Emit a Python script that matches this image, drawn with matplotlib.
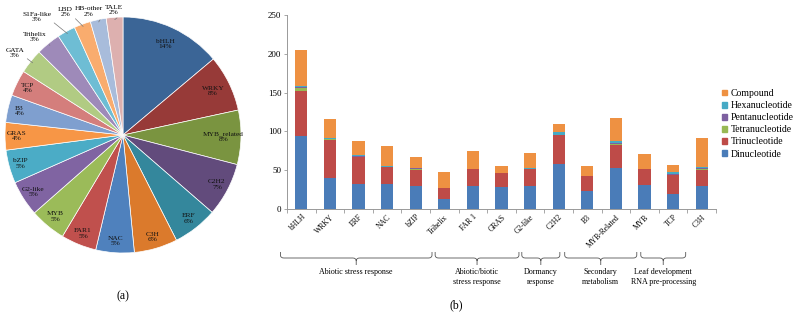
import numpy as np
import matplotlib
matplotlib.use('Agg')
import matplotlib.pyplot as plt
from matplotlib.path import Path
from matplotlib.patches import PathPatch, Patch
from matplotlib.transforms import blended_transform_factory

plt.rcParams['font.family'] = ['Liberation Serif', 'DejaVu Serif']

# (a) TF family share
families = ['bHLH', 'WRKY', 'MYB_related', 'C2H2', 'ERF', 'C3H', 'NAC', 'FAR1', 'MYB', 'G2-like',
            'bZIP', 'GRAS', 'B3', 'TCP', 'GATA', 'Trihelix', 'S1Fa-like', 'LBD', 'HB-other', 'TALE']
family_share = [14.0, 7.8, 7.5, 7.4, 6.2, 6.0, 5.3, 4.9, 5.0, 4.9,
                4.6, 3.8, 3.8, 3.6, 3.4, 3.4, 2.5, 2.3, 2.2, 2.3]
family_pct = [14, 8, 8, 7, 6, 6, 5, 5, 5, 5, 5, 4, 4, 4, 3, 3, 3, 2, 2, 2]

# (b) SSR types per TF family
tf_names = ['bHLH', 'WRKY', 'ERF', 'NAC', 'bZIP', 'Trihelix', 'FAR 1', 'GRAS', 'G2-like', 'C2H2',
            'B3', 'MYB-Related', 'MYB', 'TCP', 'C3H']
dinuc = [94, 40, 32, 32, 30, 13, 29, 28, 29, 58, 23, 53, 31, 19, 29]
trinuc = [58, 49, 35, 22, 20, 14, 23, 19, 23, 37, 19, 30, 21, 25, 21]
tetranuc = [4, 1, 0, 0, 2, 0, 0, 0, 0, 1, 0, 1, 0, 0, 1]
pentanuc = [1, 0, 1, 0, 1, 0, 0, 0, 0, 0, 0, 1, 0, 1, 2]
hexanuc = [1, 1, 1, 2, 0, 0, 0, 0, 1, 3, 0, 2, 0, 3, 1]
compound = [47, 25, 18, 25, 14, 21, 23, 9, 19, 10, 14, 30, 19, 9, 38]

groups = ['Abiotic stress response', 'Abiotic/biotic\nstress response', 'Dormancy\nresponse',
          'Secondary\nmetabolism', 'Leaf development\nRNA pre-processing']

pie_colors = ['#3B6596', '#973A38', '#7A9440', '#624B7C', '#34879C', '#DB7A2C',
              '#4F81BD', '#C0504D', '#9BBB59', '#8064A2', '#4BACC6', '#F79646',
              '#7F9FCF', '#D47E7C', '#B1CB83', '#9E8AB9', '#6EBDD4', '#F9AC6E',
              '#A8BCDB', '#DDB0AF']
bar_colors = ['#4A7CB8', '#BE4B48', '#98B954', '#7D60A0', '#46AAC5', '#EE9142']

fig = plt.figure(figsize=(7.97, 3.12), dpi=100)

# ---- pie ----
ax = fig.add_axes([5 / 797, 1 - 253 / 312, 236 / 797, 236 / 312])
wedges, _ = ax.pie(family_share, colors=pie_colors, startangle=90, counterclock=False,
                   wedgeprops=dict(edgecolor='white', linewidth=0.5))
ax.set_xlim(-1, 1)
ax.set_ylim(-1, 1)
ax.set_aspect('equal')

outside = {'GATA': (-0.915, 0.695), 'Trihelix': (-0.746, 0.833), 'S1Fa-like': (-0.73, 1.0),
           'LBD': (-0.49, 1.04), 'HB-other': (-0.29, 1.045), 'TALE': (-0.08, 1.06)}
for w, name, p in zip(wedges, families, family_pct):
    mid = np.deg2rad((w.theta1 + w.theta2) / 2)
    txt = f'{name}\n{p}%'
    if name in outside:
        tx, ty = outside[name]
        ax.annotate(txt, xy=(0.98 * np.cos(mid), 0.98 * np.sin(mid)), xytext=(tx, ty),
                    ha='center', va='center', fontsize=5.3, linespacing=1.1,
                    arrowprops=dict(arrowstyle='-', color='#777777', lw=0.5,
                                    relpos=(1.0, 0.15), shrinkA=0, shrinkB=0))
    else:
        r = 0.85 if p >= 8 else 0.9
        ax.text(r * np.cos(mid), r * np.sin(mid), txt, ha='center', va='center',
                fontsize=5.3, linespacing=1.1, color='#111111')

fig.text(123 / 797, 1 - 296 / 312, '(a)', ha='center', va='center', fontsize=8.5)

# ---- stacked bars ----
bx = fig.add_axes([287 / 797, 1 - 209 / 312, 429 / 797, 194 / 312])
x = np.arange(len(tf_names))
series = [dinuc, trinuc, tetranuc, pentanuc, hexanuc, compound]
names = ['Dinucleotide', 'Trinucleotide', 'Tetranucleotide', 'Pentanucleotide',
         'Hexanucleotide', 'Compound']
bottom = np.zeros(len(tf_names))
for vals, c in zip(series, bar_colors):
    bx.bar(x, vals, bottom=bottom, width=0.42, color=c, linewidth=0)
    bottom += np.array(vals)

bx.set_xlim(-0.5, len(tf_names) - 0.5)
bx.set_ylim(0, 250)
bx.set_yticks(range(0, 251, 50))
bx.tick_params(axis='y', labelsize=6.5, length=2, width=0.6, color='#999999', pad=2)
bx.set_xticks(x)
bx.set_xticklabels(tf_names, rotation=45, ha='right', rotation_mode='anchor', fontsize=5.5)
bx.tick_params(axis='x', which='major', length=0, pad=3)
bx.set_xticks(np.arange(-0.5, len(tf_names), 1), minor=True)
bx.tick_params(axis='x', which='minor', length=3, width=0.6, color='#999999')
for s in ['top', 'right']:
    bx.spines[s].set_visible(False)
for s in ['left', 'bottom']:
    bx.spines[s].set_color('#999999')
    bx.spines[s].set_linewidth(0.7)

handles = [Patch(color=c) for c in bar_colors]
fig.legend(handles[::-1], names[::-1], loc='upper left', bbox_to_anchor=(722 / 797, 1 - 89 / 312),
           frameon=False, fontsize=7, handlelength=0.55, handleheight=0.55,
           handletextpad=0.35, labelspacing=0.32, borderaxespad=0, borderpad=0)

# group braces under the tick labels
spans = [(-0.73, 4.57), (4.68, 7.61), (7.71, 9.04), (9.21, 11.73), (11.87, 13.44)]
trans = blended_transform_factory(bx.transData, fig.transFigure)
ytop, ymid, ybot = 1 - 252 / 312, 1 - 258 / 312, 1 - 265 / 312
e, d = 3 / 312, 0.12
for (x0, x1), g in zip(spans, groups):
    xc = (x0 + x1) / 2
    verts = [(x0, ytop), (x0, ymid + e), (x0, ymid), (x0 + d, ymid), (xc - d, ymid),
             (xc, ymid), (xc, ymid - e), (xc, ybot),
             (xc, ymid - e), (xc, ymid), (xc + d, ymid), (x1 - d, ymid),
             (x1, ymid), (x1, ymid + e), (x1, ytop)]
    codes = [Path.MOVETO, Path.LINETO, Path.CURVE3, Path.CURVE3, Path.LINETO,
             Path.CURVE3, Path.CURVE3, Path.LINETO,
             Path.MOVETO, Path.CURVE3, Path.CURVE3, Path.LINETO,
             Path.CURVE3, Path.CURVE3, Path.LINETO]
    bx.add_patch(PathPatch(Path(verts, codes), transform=trans, fill=False,
                           edgecolor='#555555', lw=0.6, clip_on=False))
    fig.text(xc, 1 - 268 / 312, g, transform=trans, ha='center', va='top',
             fontsize=5.8, linespacing=1.25)

fig.text(456 / 797, 1 - 305 / 312, '(b)', ha='center', va='center', fontsize=8.5)

fig.savefig('out.png', dpi=100)
